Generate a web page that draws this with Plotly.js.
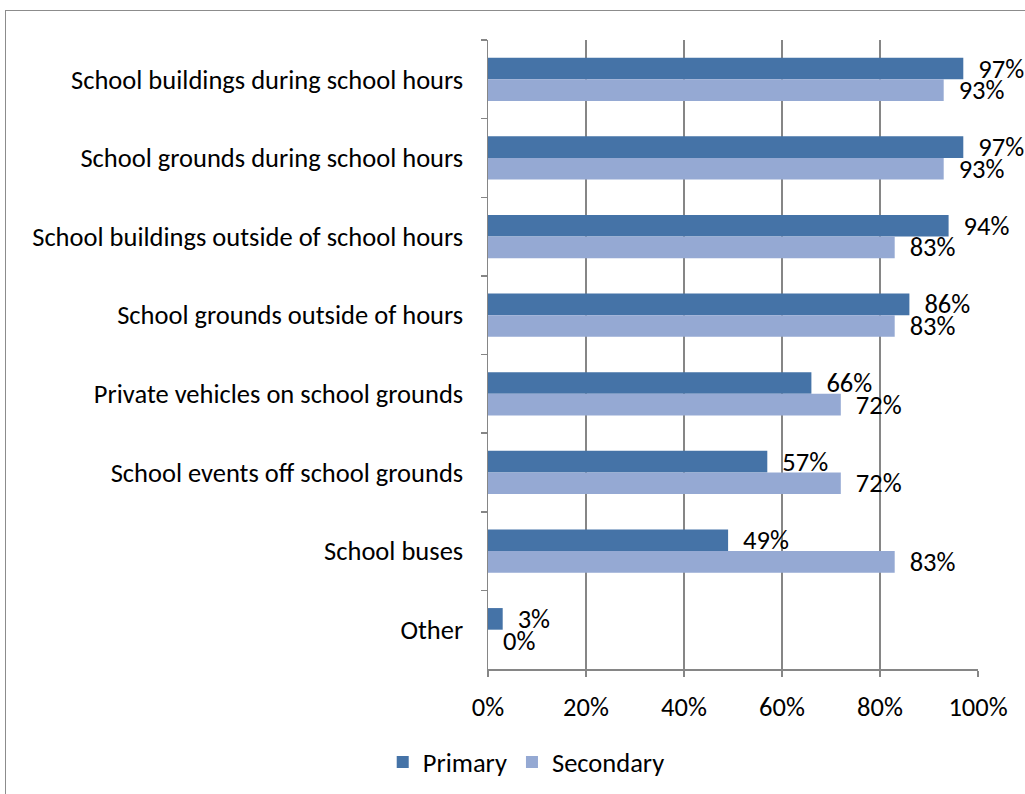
<!DOCTYPE html>
<html><head><meta charset="utf-8">
<script src="https://cdn.plot.ly/plotly-3.0.1.min.js"></script>
<style>
html,body{margin:0;padding:0;background:#fff;overflow:hidden;}
#chart{width:1025px;height:794px;}
#frame{position:absolute;left:5px;top:10px;width:1040px;height:810px;border:1.5px solid #8c8c8c;pointer-events:none;}
</style></head>
<body>
<div id="chart"></div>
<div id="frame"></div>
<script>
const categories = [
  "School buildings during school hours",
  "School grounds during school hours",
  "School buildings outside of school hours",
  "School grounds outside of hours",
  "Private vehicles on school grounds",
  "School events off school grounds",
  "School buses",
  "Other"
];
const primary = [0.97, 0.97, 0.94, 0.86, 0.66, 0.57, 0.49, 0.03];
const secondary = [0.93, 0.93, 0.83, 0.83, 0.72, 0.72, 0.83, 0.00];
const xTicks = [0, 0.2, 0.4, 0.6, 0.8, 1.0];
const xTickLabels = ["0%", "20%", "40%", "60%", "80%", "100%"];

const FONT = "Carlito, Calibri, 'Liberation Sans Narrow', sans-serif";
const FS = 26.5;
const pad = "\u00a0\u00a0";

const traces = [
  {type:'bar', orientation:'h', name:'Primary', y:categories, x:primary,
   marker:{color:'#4573A7'}, texttemplate: pad + '%{x:.0%}', textposition:'outside',
   constraintext:'none', cliponaxis:false, textfont:{size:FS, color:'#000', family:FONT}, hoverinfo:'x+y'},
  {type:'bar', orientation:'h', name:'Secondary', y:categories, x:secondary,
   marker:{color:'#95A9D3'}, texttemplate: pad + '%{x:.0%}', textposition:'outside',
   constraintext:'none', cliponaxis:false, textfont:{size:FS, color:'#000', family:FONT}, hoverinfo:'x+y'}
];

const layout = {
  width:1025, height:794,
  margin:{l:488, r:47, t:40, b:125, autoexpand:false},
  paper_bgcolor:'#fff', plot_bgcolor:'#fff',
  font:{family:FONT, size:FS, color:'#000'},
  barmode:'group', bargap:0.45, bargroupgap:0,
  showlegend:true,
  legend:{orientation:'h', x:0.078, xanchor:'center', y:-0.11, yanchor:'top',
          font:{size:FS, family:FONT}, itemwidth:30, traceorder:'normal'},
  xaxis:{range:[0,1], tickvals:xTicks, ticktext:xTickLabels, showgrid:true,
         gridcolor:'#868686', gridwidth:1.5, showline:true, linecolor:'#868686', linewidth:1.5,
         ticks:'outside', ticklen:6, tickcolor:'#868686', tickwidth:1.5, zeroline:false,
         ticklabelstandoff:8, fixedrange:true, automargin:false},
  yaxis:{type:'category', autorange:'reversed', showline:true, linecolor:'#868686', linewidth:1.5,
         ticks:'outside', tickson:'boundaries', ticklen:6, tickcolor:'#868686', tickwidth:1.5,
         showgrid:false, ticklabelstandoff:18, fixedrange:true, automargin:false}
};

Plotly.newPlot('chart', traces, layout, {displayModeBar:false, staticPlot:true});
</script>
</body></html>
